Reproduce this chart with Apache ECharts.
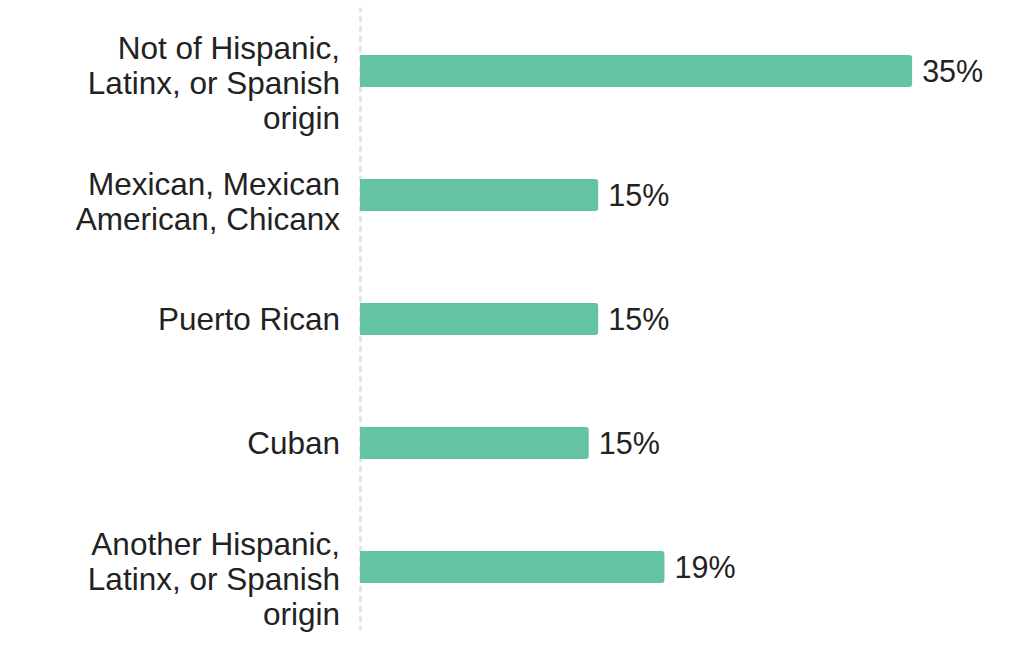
<!DOCTYPE html>
<html>
<head>
<meta charset="utf-8">
<script src="https://cdn.jsdelivr.net/npm/echarts@6/dist/echarts.min.js"></script>
<style>
  html, body { margin: 0; padding: 0; background: #fff; }
  #chart { width: 1016px; height: 648px; }
</style>
</head>
<body>
<div id="chart"></div>
<script>
const categories = [
  "Not of Hispanic,\nLatinx, or Spanish\norigin",
  "Mexican, Mexican\nAmerican, Chicanx",
  "Puerto Rican",
  "Cuban",
  "Another Hispanic,\nLatinx, or Spanish\norigin"
];
const shares = [35, 15.1, 15.1, 14.5, 19.3];

const FONT = "Liberation Sans, Arial, sans-serif";
const lbl = { fontSize: 31.5, lineHeight: 35, color: "#222", fontFamily: FONT };

const chart = echarts.init(document.getElementById("chart"), null, { renderer: "svg" });

chart.setOption({
  animation: false,
  textStyle: { fontFamily: FONT },
  grid: { left: 360, right: 25, top: 9, bottom: 19, containLabel: false, outerBoundsMode: "none" },
  xAxis: {
    type: "value",
    min: 0,
    max: 40,
    show: false
  },
  yAxis: {
    type: "category",
    data: categories,
    inverse: true,
    axisTick: { show: false },
    axisLine: {
      show: true,
      lineStyle: { color: "#e4e4e4", width: 3, type: [4, 6], dashOffset: 2 }
    },
    axisLabel: {
      margin: 20,
      color: "#222",
      fontSize: 31.5,
      lineHeight: 35,
      fontFamily: FONT,
      // wrapped labels sit a bit below the bar centre in the original:
      // an invisible spacer line on top pushes them down
      formatter: (v) => {
        const lines = v.split("\n");
        const body = lines.map((l) => "{n|" + l + "}").join("\n");
        if (lines.length === 3) return "{s3| }\n" + body;
        if (lines.length === 2) return "{s2| }\n" + body;
        return body;
      },
      rich: {
        n: lbl,
        s2: { fontSize: 1, lineHeight: 12, height: 12 },
        s3: { fontSize: 1, lineHeight: 23, height: 23 }
      }
    },
    splitLine: { show: false }
  },
  series: [
    {
      type: "bar",
      data: shares,
      barWidth: 32,
      itemStyle: { color: "#65c3a5", borderRadius: [0, 3, 3, 0] },
      label: {
        show: true,
        position: "right",
        distance: 10,
        color: "#222",
        fontSize: 30.5,
        fontFamily: FONT,
        formatter: (p) => Math.round(p.value) + "%"
      }
    }
  ]
});
</script>
</body>
</html>
